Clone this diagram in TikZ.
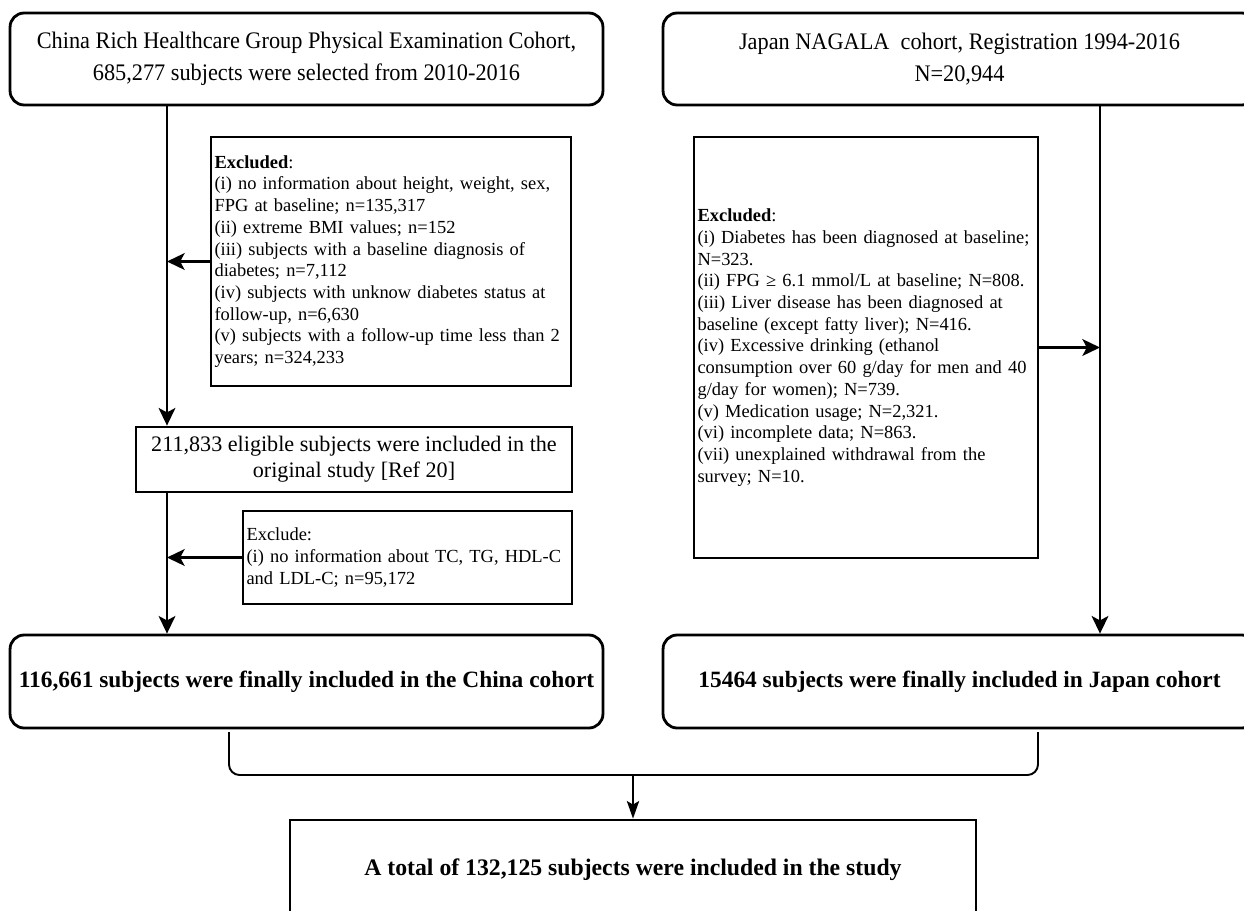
\documentclass[tikz,border=0pt]{standalone}
\usepackage{fontspec}
\setmainfont{Liberation Serif}
\newfontfamily\cohortfont[FakeStretch=0.94]{Liberation Serif}
\usetikzlibrary{arrows.meta}

\begin{document}
\begin{tikzpicture}[x=0.02cm,y=-0.02cm,
	cohort/.style={draw,line width=1.6pt,rounded corners=8pt,minimum width=11.86cm,minimum height=1.84cm,align=center,font=\cohortfont\fontsize{13.5}{18.2}\selectfont},
	final/.style={cohort,minimum height=1.86cm,font=\fontsize{13.3}{15}\selectfont\bfseries},
	stepbox/.style={draw,line width=1.6pt,align=center,font=\fontsize{12.6}{14.8}\selectfont},
	exclbox/.style={draw,line width=1.6pt,align=left,inner xsep=0.07cm,font=\fontsize{10.5}{12.35}\selectfont},
	arr/.style={line width=1.6pt,-{Stealth[length=10pt,width=9.5pt,inset=2.5pt]}},
	bracket/.style={line width=1.1pt,rounded corners=6pt},
	thinarr/.style={line width=0.9pt,-{Stealth[length=10pt,width=7pt,inset=2pt]}}]
	
	\useasboundingbox[fill=white] (0,0) rectangle (1244,910);
	
	% China cohort
	\node[cohort] (china) at (306.5,59) {China Rich Healthcare Group Physical Examination Cohort,\\685,277 subjects were selected from 2010-2016};
	\node[exclbox,text width=7.06cm,minimum height=4.98cm] (exclA) at (391,261.5) {\textbf{Excluded}:\\
		(i) no information about height, weight, sex,\\
		FPG at baseline; n=135,317\\
		(ii) extreme BMI values; n=152\\
		(iii) subjects with a baseline diagnosis of\\
		diabetes; n=7,112\\
		(iv) subjects with unknow diabetes status at\\
		follow-up, n=6,630\\
		(v) subjects with a follow-up time less than 2\\
		years; n=324,233};
	\node[stepbox,minimum width=8.72cm,minimum height=1.3cm] (orig) at (354,459.5) {211,833 eligible subjects were included in the\\original study [Ref 20]};
	\node[exclbox,text width=6.44cm,minimum height=1.86cm] (exclB) at (407.5,557.5) {Exclude:\\
		(i) no information about TC, TG, HDL-C\\
		and LDL-C; n=95,172};
	\node[final] (chinaEnd) at (306.5,681.5) {116,661 subjects were finally included in the China cohort};
	
	\coordinate (chinaTop) at (167,105);
	\draw[arr] (chinaTop) -- (orig.north -| chinaTop);
	\draw[arr] (orig.south -| chinaTop) -- (chinaEnd.north -| chinaTop);
	\draw[arr] (exclA.west) -- (exclA.west -| chinaTop);
	\draw[arr] (exclB.west) -- (exclB.west -| chinaTop);
	
	% Japan cohort
	\node[cohort] (japan) at (959.5,59) {Japan NAGALA~ cohort, Registration 1994-2016\\N=20,944};
	\node[exclbox,text width=6.74cm,minimum height=8.42cm] (exclC) at (866,347.5) {\textbf{Excluded}:\\
		(i) Diabetes has been diagnosed at baseline;\\
		N=323.\\
		(ii) FPG ≥ 6.1 mmol/L at baseline; N=808.\\
		(iii) Liver disease has been diagnosed at\\
		baseline (except fatty liver); N=416.\\
		(iv) Excessive drinking (ethanol\\
		consumption over 60 g/day for men and 40\\
		g/day for women); N=739.\\
		(v) Medication usage; N=2,321.\\
		(vi) incomplete data; N=863.\\
		(vii) unexplained withdrawal from the\\
		survey; N=10.};
	\node[final] (japanEnd) at (959.5,681.5) {15464 subjects were finally included in Japan cohort};
	
	\coordinate (japanTop) at (1100,105);
	\draw[arr] (japanTop) -- (japanEnd.north -| japanTop);
	\draw[arr] (exclC.east) -- (exclC.east -| japanTop);
	
	% Total
	\node[stepbox,minimum width=13.72cm,minimum height=2cm,font=\fontsize{13.5}{15}\selectfont\bfseries] (total) at (633,870) {A total of 132,125 subjects were included in the study};
	
	\coordinate (brL) at (229,732);
	\coordinate (brR) at (1038,732);
	\coordinate (brM) at (633,775);
	\draw[bracket] (brL) |- (brM) -| (brR);
	\draw[thinarr] (brM) -- (total.north);
	
\end{tikzpicture}
\end{document}
